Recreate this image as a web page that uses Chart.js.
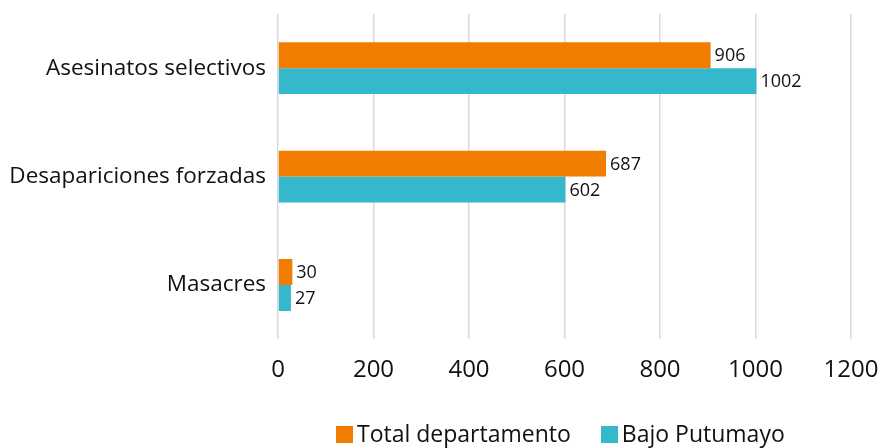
<!DOCTYPE html>
<html>
<head>
<meta charset="utf-8">
<script src="https://cdn.jsdelivr.net/npm/chart.js@4/dist/chart.umd.min.js"></script>
<style>
  html, body { margin: 0; padding: 0; background: #fff; }
  #wrap { position: relative; width: 880px; height: 448px; }
  #legend {
    position: absolute; left: 336px; top: 418px;
    display: flex; gap: 30px; white-space: nowrap;
    font-family: "Open Sans", sans-serif; font-size: 23px; color: #111;
    line-height: 30px;
  }
  #legend span.item { display: flex; align-items: center; }
  #legend span.box { display: inline-block; width: 17px; height: 17px; margin-right: 4px; margin-top: 3px; }
</style>
</head>
<body>
<div id="wrap">
  <canvas id="myChart"></canvas>
  <div id="legend"></div>
</div>
<script>
const categories = ['Asesinatos selectivos', 'Desapariciones forzadas', 'Masacres'];
const totalDepartamento = [906, 687, 30];
const bajoPutumayo = [1002, 602, 27];
const xTicks = [0, 200, 400, 600, 800, 1000, 1200];

const FONT = '"Open Sans", sans-serif';

// value labels at the end of each bar
const barLabels = {
  id: 'barLabels',
  afterDatasetsDraw(chart) {
    const ctx = chart.ctx;
    ctx.save();
    ctx.font = '18px ' + FONT;
    ctx.fillStyle = '#111';
    ctx.textBaseline = 'middle';
    ctx.textAlign = 'left';
    chart.data.datasets.forEach((ds, i) => {
      chart.getDatasetMeta(i).data.forEach((bar, j) => {
        ctx.fillText(ds.data[j], bar.x + 4, bar.y + 1);
      });
    });
    ctx.restore();
  }
};

const chart = new Chart(
  document.getElementById('myChart'),
  {
    type: 'bar',
    data: {
      labels: categories,
      datasets: [
        {
          label: 'Total departamento',
          data: totalDepartamento,
          backgroundColor: '#F07D00'
        },
        {
          label: 'Bajo Putumayo',
          data: bajoPutumayo,
          backgroundColor: '#35B8CC'
        }
      ]
    },
    options: {
      indexAxis: 'y',
      responsive: true,
      maintainAspectRatio: false,
      animation: false,
      categoryPercentage: 0.478,
      barPercentage: 1,
      layout: { padding: { top: 14, right: 0, left: 10, bottom: 46 } },
      scales: {
        x: {
          min: 0,
          max: 1200,
          afterBuildTicks(axis) {
            axis.ticks = xTicks.map(v => ({ value: v }));
          },
          afterFit(scale) {
            scale.paddingRight = 29;
            scale.paddingLeft = 0;
          },
          grid: { color: '#d9d9d9', lineWidth: 1.5, drawTicks: false },
          border: { display: false },
          ticks: {
            padding: 17,
            color: '#111',
            font: { family: FONT, size: 24 },
            callback: v => String(v)
          }
        },
        y: {
          afterFit(scale) {
            scale.width = 268;
            scale.paddingTop = 0;
            scale.paddingBottom = 0;
          },
          grid: { display: false, drawTicks: false, tickLength: 0 },
          border: { display: false },
          ticks: {
            padding: 12,
            color: '#111',
            font: { family: FONT, size: 22.5 }
          }
        }
      },
      plugins: {
        legend: { display: false },
        tooltip: { enabled: false }
      }
    },
    plugins: [barLabels]
  }
);

const legend = document.getElementById('legend');
chart.data.datasets.forEach(ds => {
  const item = document.createElement('span');
  item.className = 'item';
  item.innerHTML = '<span class="box" style="background:' + ds.backgroundColor + '"></span>' + ds.label;
  legend.appendChild(item);
});
</script>
</body>
</html>
